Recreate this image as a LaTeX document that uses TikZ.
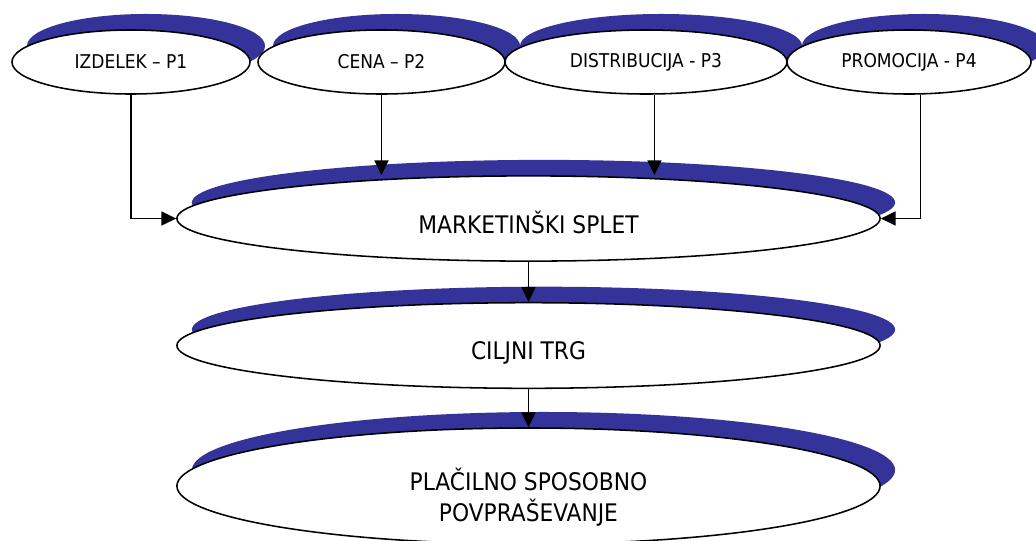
\documentclass[tikz,border=0pt]{standalone}
\usepackage{fontspec}
\setmainfont{DejaVu Sans Condensed}
\usetikzlibrary{shapes,arrows.meta,positioning,shadows}
\definecolor{shadowblue}{HTML}{333399}
\tikzstyle{oval} = [ellipse, draw=black, line width=1.1pt, fill=white, inner sep=0pt, general shadow={fill=shadowblue, shadow xshift=0.375cm, shadow yshift=0.4cm}]
\tikzstyle{pbox} = [oval, minimum height=1.6cm, font=\fontsize{13.5}{16}\selectfont]
\tikzstyle{mainbox} = [oval, minimum width=17.575cm, text depth=0pt, font=\fontsize{17.2}{19.7}\selectfont]
\tikzstyle{arrow} = [line width=1pt, -{Triangle[length=10.5pt,width=10pt]}]

\begin{document}
\begin{tikzpicture}[x=0.025cm, y=-0.025cm]
    \useasboundingbox (0,0) rectangle (1036,540);
    % Nodes
    \node (p1) [pbox, minimum width=5.95cm] at (131,62) {IZDELEK -- P1};
    \node (p2) [pbox, minimum width=6.175cm] at (381.5,62) {CENA -- P2};
    \node (p3) [pbox, minimum width=7.05cm] at (646,62) {DISTRIBUCIJA - P3};
    \node (p4) [pbox, minimum width=6.1cm] at (909,62) {PROMOCIJA - P4};
    \node (splet) [mainbox, minimum height=2.13cm, text height=21.8pt] at (528.5,218.5) {MARKETINŠKI SPLET};
    \node (trg) [mainbox, minimum height=2.14cm, text height=20.6pt] at (528.5,345.5) {CILJNI TRG};
    \node (demand) [mainbox, minimum height=2.9cm, text height=7pt] at (528.5,486)
        {\begin{tabular}[t]{@{}c@{}}PLAČILNO SPOSOBNO\\POVPRAŠEVANJE\end{tabular}};

    % Arrows
    \draw [arrow] (p1.south) |- (splet.west);
    \draw [arrow] (p2.south) -- (p2.south |- splet.north);
    \draw [arrow] ([xshift=0.21cm]p3.south) -- ([xshift=0.21cm]p3.south |- splet.north);
    \draw [arrow] ([xshift=0.28cm]p4.south) |- (splet.east);
    \draw [arrow] (splet) -- (trg);
    \draw [arrow] (trg) -- (demand);
\end{tikzpicture}
\end{document}
